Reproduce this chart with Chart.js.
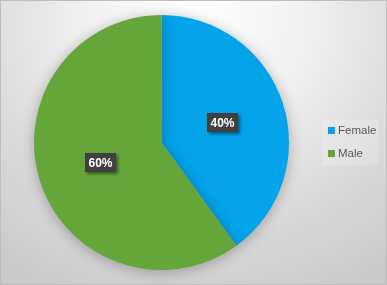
<!DOCTYPE html>
<html>
<head>
<meta charset="utf-8">
<script src="https://cdn.jsdelivr.net/npm/chart.js@4/dist/chart.umd.min.js"></script>
<style>
html,body{margin:0;padding:0;}
#wrap{position:relative;width:387px;height:285px;box-sizing:border-box;border:1px solid #bdbdbd;
background:radial-gradient(ellipse 330px 300px at 195px 20px,#ffffff 0%,#f2f2f2 30%,#d9d9d9 70%,#c9c9c9 100%);}
canvas{display:block;}
</style>
</head>
<body>
<div id="wrap"><canvas id="c" width="385" height="283"></canvas></div>
<script>
const categories = ["Female", "Male"];
const values = [40, 60];
const valueLabels = ["40%", "60%"];
const colors = ["#05A3EA", "#65A63A"];

const shadowPlugin = {
  id: 'shadow',
  beforeDatasetsDraw(chart) {
    const ctx = chart.ctx;
    ctx.save();
    ctx.shadowColor = 'rgba(0,0,0,0.28)';
    ctx.shadowBlur = 14;
    ctx.shadowOffsetX = 0;
    ctx.shadowOffsetY = 2;
  },
  afterDatasetsDraw(chart) {
    chart.ctx.restore();
    const ctx = chart.ctx;
    const meta = chart.getDatasetMeta(0);
    meta.data.forEach((arc, i) => {
      const p = arc.tooltipPosition();
      ctx.save();
      ctx.font = 'bold 12px "Liberation Sans", Arial, sans-serif';
      const txt = valueLabels[i];
      const w = 31, h = 19;
      const x = Math.round(p.x - w / 2), y = Math.round(p.y - h / 2);
      ctx.shadowColor = 'rgba(0,0,0,0.45)';
      ctx.shadowBlur = 3;
      ctx.shadowOffsetX = 2;
      ctx.shadowOffsetY = 2;
      ctx.fillStyle = '#404040';
      ctx.fillRect(x, y, w, h);
      ctx.shadowColor = 'transparent';
      ctx.fillStyle = '#ffffff';
      ctx.textAlign = 'center';
      ctx.textBaseline = 'middle';
      ctx.fillText(txt, x + w / 2, y + h / 2 + 1);
      ctx.restore();
    });
    ctx.save();
    ctx.fillStyle = 'rgba(255,255,255,0.18)';
    ctx.fillRect(321, 119, 57, 45);
    ctx.font = '11.5px "Liberation Sans", Arial, sans-serif';
    ctx.textBaseline = 'middle';
    ctx.textAlign = 'left';
    categories.forEach((c, i) => {
      const cy = 129 + i * 23;
      ctx.fillStyle = colors[i];
      ctx.fillRect(327, cy - 3, 7, 7);
      ctx.fillStyle = '#595959';
      ctx.fillText(c, 337, cy + 1);
    });
    ctx.restore();
  }
};

new Chart(document.getElementById('c'), {
  type: 'pie',
  data: {
    labels: categories,
    datasets: [{
      data: values,
      backgroundColor: colors,
      borderWidth: 0
    }]
  },
  options: {
    responsive: false,
    animation: false,
    layout: { padding: { left: 33, top: 14, right: 97, bottom: 14 } },
    plugins: {
      legend: { display: false },
      tooltip: { enabled: false }
    }
  },
  plugins: [shadowPlugin]
});
</script>
</body>
</html>
